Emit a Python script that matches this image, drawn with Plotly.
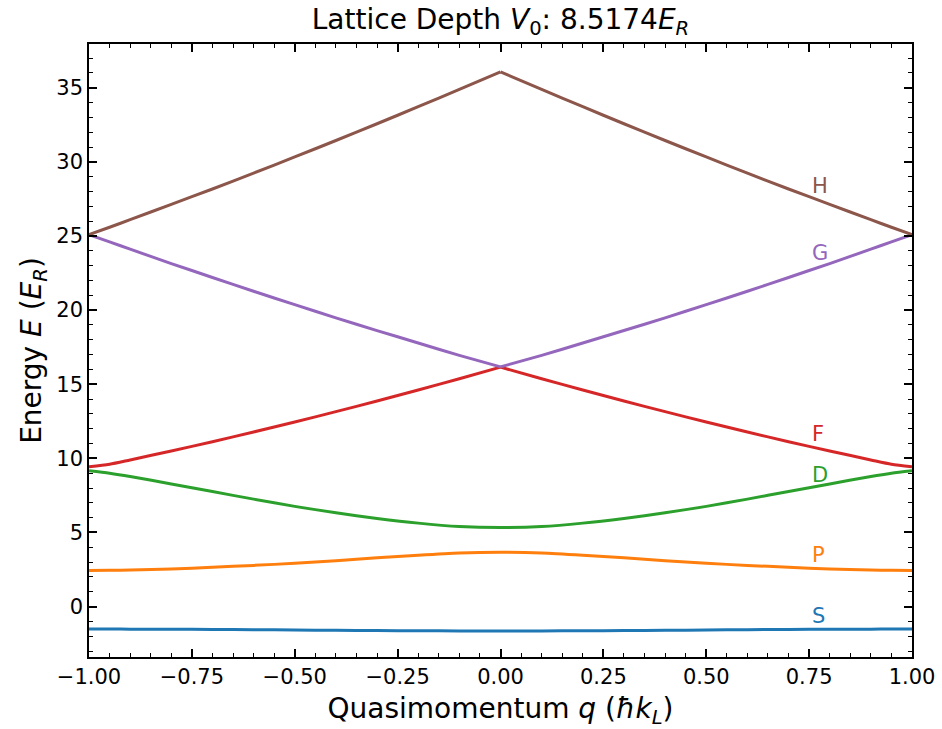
import plotly.graph_objects as go

q = [-1.0, -0.95, -0.9, -0.8, -0.7, -0.6, -0.5, -0.4, -0.3, -0.2, -0.1, 0.0,
     0.1, 0.2, 0.3, 0.4, 0.5, 0.6, 0.7, 0.8, 0.9, 0.95, 1.0]

band_S = [-1.51, -1.51, -1.52, -1.53, -1.54, -1.56, -1.58, -1.60, -1.62, -1.63, -1.64, -1.64,
          -1.64, -1.63, -1.62, -1.60, -1.58, -1.56, -1.54, -1.53, -1.52, -1.51, -1.51]
band_P = [2.44, 2.45, 2.47, 2.54, 2.65, 2.78, 2.92, 3.10, 3.29, 3.47, 3.62, 3.67,
          3.62, 3.47, 3.29, 3.10, 2.92, 2.78, 2.65, 2.54, 2.47, 2.45, 2.44]
band_D = [9.17, 9.00, 8.78, 8.27, 7.76, 7.25, 6.76, 6.33, 5.95, 5.63, 5.40, 5.33,
          5.40, 5.63, 5.95, 6.33, 6.76, 7.25, 7.76, 8.27, 8.78, 9.00, 9.17]
band_F = [9.43, 9.60, 9.89, 10.50, 11.12, 11.78, 12.45, 13.15, 13.87, 14.61, 15.37, 16.15,
          15.37, 14.61, 13.87, 13.15, 12.45, 11.78, 11.12, 10.50, 9.89, 9.60, 9.43]
band_G = [25.09, 24.60, 24.11, 23.14, 22.20, 21.27, 20.37, 19.48, 18.62, 17.78, 16.95, 16.17,
          16.95, 17.78, 18.62, 19.48, 20.37, 21.27, 22.20, 23.14, 24.11, 24.60, 25.09]
band_H = [25.10, 25.59, 26.10, 27.13, 28.17, 29.24, 30.33, 31.44, 32.57, 33.72, 34.89, 36.07,
          34.89, 33.72, 32.57, 31.44, 30.33, 29.24, 28.17, 27.13, 26.10, 25.59, 25.10]

band_names = ["S", "P", "D", "F", "G", "H"]
band_colors = ["#1f77b4", "#ff7f0e", "#2ca02c", "#d62728", "#9467bd", "#8c564b"]
# bands with a cusp at q = 0 are drawn as two smooth halves
band_cusp = [False, False, False, True, True, True]
label_q = 0.75
label_E = [-0.62, 3.45, 8.88, 11.66, 23.82, 28.40]

x_tickvals = [-1.0, -0.75, -0.5, -0.25, 0.0, 0.25, 0.5, 0.75, 1.0]
x_ticktext = ["\u22121.00", "\u22120.75", "\u22120.50", "\u22120.25", "0.00",
              "0.25", "0.50", "0.75", "1.00"]
y_tickvals = [0, 5, 10, 15, 20, 25, 30, 35]
y_ticktext = ["0", "5", "10", "15", "20", "25", "30", "35"]

bands = [band_S, band_P, band_D, band_F, band_G, band_H]

FONT = "DejaVu Sans"
fig = go.Figure()
mid = q.index(0.0)
for name, vals, col, cusp in zip(band_names, bands, band_colors, band_cusp):
    if cusp:
        pieces = [(q[:mid + 1], vals[:mid + 1]), (q[mid:], vals[mid:])]
    else:
        pieces = [(q, vals)]
    for xs, ys in pieces:
        fig.add_trace(go.Scatter(
            x=xs, y=ys, mode="lines", name=name,
            line=dict(color=col, width=3, shape="spline", smoothing=0.7),
            showlegend=False, hoverinfo="skip"))

for name, e, col in zip(band_names, label_E, band_colors):
    fig.add_annotation(x=label_q, y=e, text=name, showarrow=False,
                       xanchor="left", yanchor="middle", xshift=1,
                       font=dict(family=FONT, size=21, color=col))

axis_common = dict(
    showline=True, linecolor="black", linewidth=1.6, mirror="allticks",
    ticks="inside", ticklen=8, tickwidth=1.6, tickcolor="black",
    showgrid=False, zeroline=False, automargin=False,
    tickfont=dict(family=FONT, size=21, color="black"),
)

fig.update_layout(
    width=942, height=729,
    margin=dict(l=89, r=30, t=44, b=72),
    paper_bgcolor="white", plot_bgcolor="white",
    title=dict(text="Lattice Depth <i>V</i><sub>0</sub>: 8.5174<i>E</i><sub><i>R</i></sub>",
               x=0.5, xref="paper", y=1 - 19 / 729, yref="container", yanchor="middle",
               font=dict(family=FONT, size=28, color="black")),
    xaxis=dict(range=[-1, 1], tickvals=x_tickvals, ticktext=x_ticktext,
               title=dict(text="Quasimomentum <i>q</i> (<i>\u0127k</i><sub><i>L</i></sub>)",
                          font=dict(family=FONT, size=28, color="black"), standoff=11),
               minor=dict(ticks="inside", dtick=0.05, ticklen=4, tickwidth=1.4,
                          tickcolor="black", showgrid=False),
               **axis_common),
    yaxis=dict(range=[-3.4, 37.95], tickvals=y_tickvals, ticktext=y_ticktext,
               title=dict(text="Energy <i>E</i> (<i>E</i><sub><i>R</i></sub>)",
                          font=dict(family=FONT, size=28, color="black"), standoff=6),
               minor=dict(ticks="inside", dtick=1, tick0=0, ticklen=4, tickwidth=1.4,
                          tickcolor="black", showgrid=False),
               **axis_common),
)

fig.write_html("out.html")
